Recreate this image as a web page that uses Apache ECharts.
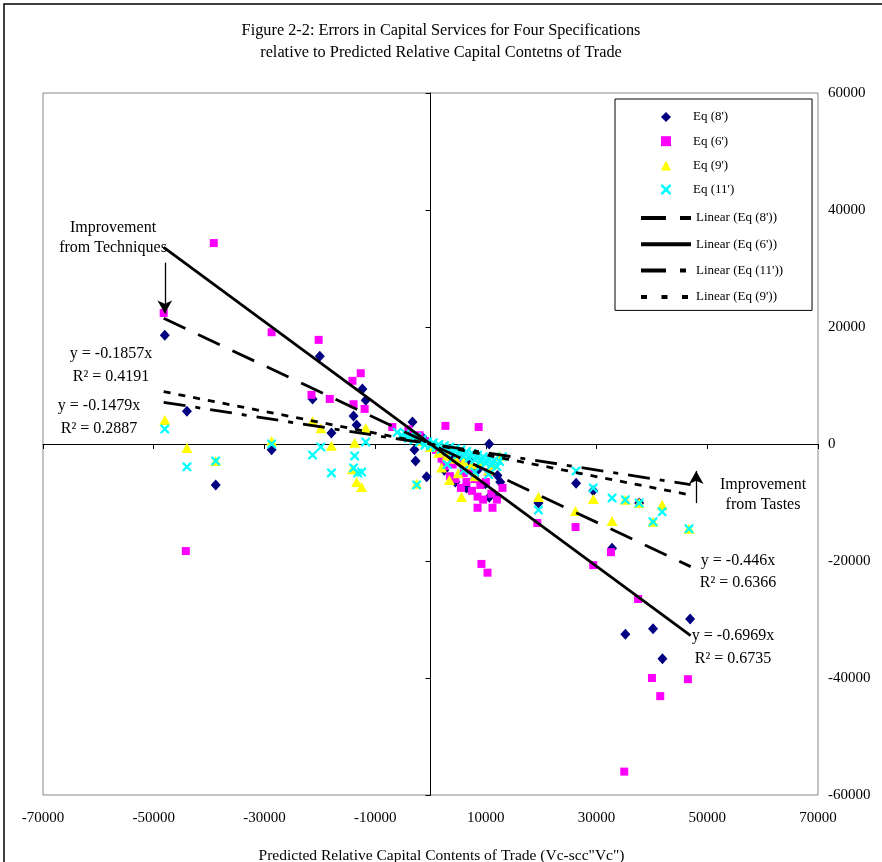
<!DOCTYPE html>
<html><head><meta charset="utf-8">
<script src="https://cdn.jsdelivr.net/npm/echarts@6/dist/echarts.min.js"></script>
<style>html,body{margin:0;padding:0;background:#fff}#c{width:882px;height:862px}</style>
</head><body><div id="c"></div>
<script>
const xTicks = [-70000, -50000, -30000, -10000, 10000, 30000, 50000, 70000];
const yTicks = [-60000, -40000, -20000, 0, 20000, 40000, 60000];

const eq8 = [[-48000,18600],[-44000,5600],[-38800,-7000],[-28700,-1000],[-20000,15000],[-21300,7700],[-12300,9400],[-11700,7500],[-13900,4800],[-13350,3250],[-17900,1900],[-3250,3750],[-2900,-1000],[-2700,-2900],[-700,-5600],[10600,0],[12600,-6500],[9900,-6800],[26300,-6700],[29400,-8000],[37700,-10100],[19500,-10100],[32800,-17800],[35200,-32500],[40200,-31600],[41900,-36700],[46900,-29900],[-1500,1200],[1500,-800],[3500,-2200],[5500,-3400],[7000,-2800],[8500,-4500],[12100,-5400],[4500,-6500],[6500,-7500],[12000,-9000],[10600,-9100],[2500,-4500]];
const eq6 = [[-39150,34350],[-48200,22400],[-44200,-18300],[-28700,19100],[-20200,17800],[-12600,12100],[-14100,10800],[-21500,8400],[-18200,7700],[-13900,6800],[-11900,6000],[-6900,2900],[2700,3100],[8700,2900],[8500,-10900],[11200,-10900],[9200,-20500],[10300,-22000],[19300,-13500],[26200,-14200],[32600,-18500],[29400,-20700],[37500,-26500],[40000,-40000],[46500,-40200],[41500,-43100],[35000,-56000],[1000,-1000],[2000,-2500],[3000,-1500],[4000,-3500],[5000,-2500],[6000,-5000],[7000,-4500],[8000,-6000],[9000,-7000],[10000,-6500],[11000,-8500],[12000,-9500],[5500,-7500],[7500,-8000],[9500,-9500],[3500,-5500],[-2000,1500],[-4000,2500],[-1000,500],[13000,-7500],[6500,-6500],[4500,-6000],[8500,-9000],[2500,-3800],[10500,-4800]];
const eq9 = [[-48000,4100],[-44000,-700],[-38800,-2900],[-28700,500],[-21300,3900],[-19800,2700],[-17900,-300],[-13700,200],[-11700,2700],[-14100,-4300],[-13350,-6500],[-12450,-7350],[-2500,-6800],[3400,-6150],[5600,-9050],[19500,-9050],[26200,-11450],[29400,-9400],[32800,-13150],[35200,-9550],[37700,-10100],[41850,-10400],[40200,-13300],[46700,-14500],[-3000,1500],[-1500,500],[0,-500],[1500,-1500],[3000,-2000],[4500,-2500],[6000,-3000],[7500,-3500],[9000,-3000],[10500,-4500],[2000,-4000],[5000,-5000],[8000,-5500],[11500,-3500],[12500,-2000]];
const eq11 = [[-48000,2550],[-44000,-3900],[-38800,-2900],[-28700,0],[-19800,-500],[-21300,-1900],[-17900,-4950],[-13700,-2050],[-11700,350],[-13900,-4100],[-12450,-4800],[-13150,-4950],[-2500,-7000],[26300,-4600],[29400,-7500],[32800,-9250],[35200,-9550],[37700,-10100],[41850,-11600],[40200,-13300],[46700,-14500],[19500,-11300],[-6000,2000],[-5200,1500],[-4500,1800],[-4000,1000],[-3500,1400],[-3000,700],[-2500,1200],[-2000,300],[-1500,800],[-1000,-200],[-500,400],[0,-300],[500,200],[1000,-600],[1500,-100],[2000,-900],[2500,-300],[3000,-1200],[3500,-500],[4000,-1500],[4500,-800],[5000,-1800],[5500,-1000],[6000,-2100],[6500,-1300],[7000,-2400],[7500,-1600],[8000,-2700],[8500,-1900],[9000,-3000],[9500,-2200],[10000,-3300],[10500,-2500],[11000,-3600],[11500,-2800],[12000,-3900],[12500,-3000],[13000,-2200],[3000,-3500],[6000,-4500],[8000,-4800],[10500,-5200]];

const scatterNames = ["Eq (8')", "Eq (6')", "Eq (9')", "Eq (11')"];
const trendNames = ["Linear (Eq (8'))", "Linear (Eq (6'))", "Linear (Eq (11'))", "Linear (Eq (9'))"];
const trendSlopes = [-0.446, -0.6969, -0.1479, -0.1857];
const trendXRange = [-48200, 47000];
const trendDash = [[24, 14], 'solid', [22, 10, 5, 10], [7, 8]];
const legendDash = [[25, 14], 'solid', [25, 14, 6, 20], [6, 14.5]];

const FONT = '"Liberation Serif", "Times New Roman", serif';
const crossPath = 'path://M0,0 L1.8,0 L5,3.2 L8.2,0 L10,0 L10,1.8 L6.8,5 L10,8.2 L10,10 L8.2,10 L5,6.8 L1.8,10 L0,10 L0,8.2 L3.2,5 L0,1.8 Z';

const chart = echarts.init(document.getElementById('c'), null, {renderer: 'canvas'});

const trendSeries = trendNames.map((n, i) => ({
  name: n, type: 'line', xAxisIndex: 0, yAxisIndex: 0,
  data: trendXRange.map(x => [x, trendSlopes[i] * x]),
  symbol: 'none', silent: true, z: 5,
  lineStyle: {color: '#000', width: 2.8, type: trendDash[i]},
  itemStyle: {color: '#000'}
}));

trendSeries[1].markLine = {
  silent: true, animation: false, symbolSize: [11, 13],
  label: {show: false},
  lineStyle: {color: '#000', width: 1.3, type: 'solid'},
  data: [
    [{coord: [-48000, 31000], symbol: 'none'}, {coord: [-48000, 22300], symbol: 'arrow'}],
    [{coord: [48000, -10100], symbol: 'none'}, {coord: [48000, -4600], symbol: 'arrow'}]
  ]
};

const fmt = v => String(v);

const legendScatter = scatterNames.map(n => ({name: n}));
const legendLines = trendNames.map((n, i) => ({
  name: n,
  itemStyle: {color: 'rgba(0,0,0,0)', borderWidth: 0, opacity: 0},
  lineStyle: {width: 4, type: legendDash[i], color: '#000'}
}));

const option = {
  animation: false,
  backgroundColor: '#fff',
  title: {
    text: 'Figure 2-2: Errors in Capital Services for Four Specifications\nrelative to Predicted Relative Capital Contetns of Trade',
    left: 'center', top: 15,
    textStyle: {fontFamily: FONT, fontSize: 16.3, fontWeight: 'normal', color: '#000', lineHeight: 22}
  },
  grid: {left: 43, right: 64, top: 93, bottom: 67, show: true, borderColor: '#888', borderWidth: 1, backgroundColor: '#fff', containLabel: false, outerBoundsMode: 'none'},
  xAxis: [
    {type: 'value', min: xTicks[0], max: xTicks[xTicks.length-1], interval: 20000, position: 'bottom',
     axisLine: {show: false, onZero: false}, axisTick: {show: false}, splitLine: {show: false},
     axisLabel: {fontFamily: FONT, fontSize: 15, color: '#000', margin: 16, formatter: fmt, showMinLabel: true, showMaxLabel: true},
     name: 'Predicted Relative Capital Contents of Trade (Vc-scc"Vc")', nameLocation: 'middle', nameGap: 53,
     nameTextStyle: {fontFamily: FONT, fontSize: 15.5, color: '#000', padding: [0, 0, 0, 22]}},
    {type: 'value', min: xTicks[0], max: xTicks[xTicks.length-1], interval: 20000, position: 'bottom',
     axisLine: {show: true, onZero: true, lineStyle: {color: '#000', width: 1}},
     axisTick: {show: true, length: 5, lineStyle: {color: '#000'}}, axisLabel: {show: false}, splitLine: {show: false}}
  ],
  yAxis: [
    {type: 'value', min: yTicks[0], max: yTicks[yTicks.length-1], interval: 20000, position: 'right',
     axisLine: {show: false, onZero: false}, axisTick: {show: false}, splitLine: {show: false},
     axisLabel: {fontFamily: FONT, fontSize: 15, color: '#000', margin: 10, formatter: fmt}},
    {type: 'value', min: yTicks[0], max: yTicks[yTicks.length-1], interval: 20000, position: 'left',
     axisLine: {show: true, onZero: true, lineStyle: {color: '#000', width: 1}},
     axisTick: {show: true, length: 5, lineStyle: {color: '#000'}}, axisLabel: {show: false}, splitLine: {show: false}}
  ],
  legend: [
    {
      orient: 'vertical', left: 615, top: 99, z: 4,
      padding: [112.5, 29, 7, 24], itemWidth: 50, itemHeight: 10, itemGap: 13.3,
      backgroundColor: '#fff', borderColor: '#000', borderWidth: 1,
      textStyle: {fontFamily: FONT, fontSize: 13, color: '#000'},
      data: legendLines
    },
    {
      orient: 'vertical', left: 661, top: 99, z: 10,
      padding: [11.5, 0, 0, 0], itemWidth: 10, itemHeight: 10, itemGap: 11.2,
      symbolKeepAspect: true,
      textStyle: {fontFamily: FONT, fontSize: 13, color: '#000', padding: [0, 0, 0, 17]},
      data: legendScatter
    }
  ],
  graphic: [
    {type: 'rect', shape: {x: 4, y: 4, width: 900, height: 900}, style: {fill: 'none', stroke: '#000', lineWidth: 1.5}, silent: true, z: 100},
    {type: 'text', x: 113, y: 218, style: {text: 'Improvement\nfrom Techniques', font: '16px ' + FONT, fill: '#000', textAlign: 'center', lineHeight: 20}, z: 50},
    {type: 'text', x: 111, y: 342, style: {text: 'y = -0.1857x\nR² = 0.4191', font: '16px ' + FONT, fill: '#000', textAlign: 'center', lineHeight: 23}, z: 50},
    {type: 'text', x: 99, y: 394, style: {text: 'y = -0.1479x\nR² = 0.2887', font: '16px ' + FONT, fill: '#000', textAlign: 'center', lineHeight: 23}, z: 50},
    {type: 'text', x: 763, y: 475, style: {text: 'Improvement\nfrom Tastes', font: '16px ' + FONT, fill: '#000', textAlign: 'center', lineHeight: 20}, z: 50},
    {type: 'text', x: 738, y: 550, style: {text: 'y = -0.446x\nR² = 0.6366', font: '16px ' + FONT, fill: '#000', textAlign: 'center', lineHeight: 22}, z: 50},
    {type: 'text', x: 733, y: 624, style: {text: 'y = -0.6969x\nR² = 0.6735', font: '16px ' + FONT, fill: '#000', textAlign: 'center', lineHeight: 23}, z: 50}
  ],
  series: [
    {name: scatterNames[0], type: 'scatter', data: eq8, symbol: 'diamond', symbolSize: [10, 11], itemStyle: {color: '#000080', opacity: 1}, z: 3},
    {name: scatterNames[1], type: 'scatter', data: eq6, symbol: 'rect', symbolSize: 8, itemStyle: {color: '#FF00FF', opacity: 1}, z: 3},
    {name: scatterNames[2], type: 'scatter', data: eq9, symbol: 'triangle', symbolSize: [11, 10], itemStyle: {color: '#FFFF00', opacity: 1}, z: 3},
    {name: scatterNames[3], type: 'scatter', data: eq11, symbol: crossPath, symbolSize: 9, itemStyle: {color: '#00FFFF', opacity: 1}, z: 3}
  ].concat(trendSeries)
};
chart.setOption(option);
</script>
</body></html>
